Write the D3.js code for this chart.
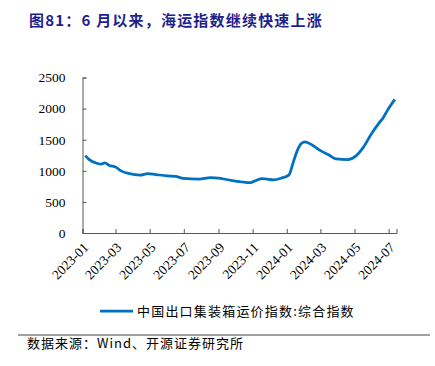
<!DOCTYPE html>
<html>
<head>
<meta charset="utf-8">
<script src="https://cdn.jsdelivr.net/npm/d3@7"></script>
<style>
  body { margin: 0; background: #fff; }
  svg { display: block; }
  .axis text { font-family: "Liberation Serif", "DejaVu Serif", serif; font-size: 13.5px; }
</style>
</head>
<body>
<div id="chart"></div>
<script>
// weekly CCFI composite readings (approx.)
const dates = [
  '2023-01-06', '2023-01-13', '2023-01-27', '2023-02-03', '2023-02-10', '2023-02-17',
  '2023-03-03', '2023-03-10', '2023-03-24', '2023-04-14', '2023-04-28', '2023-05-12',
  '2023-06-02', '2023-06-16', '2023-06-30', '2023-07-28', '2023-08-18', '2023-09-01',
  '2023-09-15', '2023-10-13', '2023-10-27', '2023-11-03', '2023-11-17', '2023-11-24',
  '2023-12-08', '2023-12-22', '2024-01-05', '2024-01-12', '2024-01-19', '2024-01-26',
  '2024-02-02', '2024-02-16', '2024-03-01', '2024-03-15', '2024-03-29', '2024-04-19',
  '2024-05-03', '2024-05-17', '2024-05-31', '2024-06-14', '2024-06-21', '2024-06-28',
  '2024-07-12'
];
const values = [
  1244, 1180, 1120, 1106, 1127, 1090,
  1052, 1002, 958, 930, 955, 940,
  918, 912, 878, 866, 891, 882,
  860, 820, 808, 830, 875, 870,
  855, 882, 935, 1122, 1308, 1430,
  1464, 1411, 1325, 1262, 1192, 1180,
  1236, 1380, 1590, 1770, 1850, 1960,
  2148
];
const yTicks = [0, 500, 1000, 1500, 2000, 2500];
const title = '图81：6 月以来，海运指数继续快速上涨';
const seriesName = '中国出口集装箱运价指数:综合指数';
const source = '数据来源：Wind、开源证券研究所';

const W = 435, H = 366;
const margin = { left: 82.5, right: 38.5, top: 77.5, bottom: 133 };
const parse = d3.timeParse('%Y-%m-%d');
const data = dates.map((d, i) => ({ date: parse(d), value: values[i] }));

const svg = d3.select('#chart').append('svg')
  .attr('width', W)
  .attr('height', H);

const x = d3.scaleTime()
  .domain([parse('2023-01-01'), parse('2024-07-15')])
  .range([margin.left, W - margin.right]);

const y = d3.scaleLinear()
  .domain([0, 2500])
  .range([H - margin.bottom, margin.top]);

// title
svg.append('text')
  .attr('x', 29)
  .attr('y', 26)
  .attr('fill', '#1f1f8c')
  .style('font-family', '"Noto Sans CJK SC", sans-serif')
  .style('font-weight', 'bold')
  .style('font-size', '15px')
  .style('letter-spacing', '1.2px')
  .text(title);

// y axis
const yAxis = svg.append('g')
  .attr('class', 'axis')
  .attr('transform', `translate(${margin.left},0)`)
  .call(d3.axisLeft(y).tickValues(yTicks).tickFormat(d3.format('d')).tickSize(-4).tickPadding(17));

// x axis
const xAxis = svg.append('g')
  .attr('class', 'axis')
  .attr('transform', `translate(0,${H - margin.bottom})`)
  .call(d3.axisBottom(x)
    .ticks(d3.timeMonth.every(2))
    .tickFormat(d3.timeFormat('%Y-%m'))
    .tickSize(-4));

[yAxis, xAxis].forEach(g => {
  g.attr('font-family', null).attr('font-size', null);
  g.select('.domain').attr('stroke', '#595959');
  g.selectAll('.tick line').attr('stroke', '#595959');
  g.selectAll('text').attr('fill', '#000');
});

xAxis.selectAll('.tick text')
  .attr('x', 0)
  .attr('y', 0)
  .attr('dy', '0.35em')
  .attr('text-anchor', 'end')
  .attr('transform', 'translate(3,12) rotate(-45)');

// line
const line = d3.line()
  .x(d => x(d.date))
  .y(d => y(d.value))
  .curve(d3.curveMonotoneX);

svg.append('path')
  .datum(data)
  .attr('fill', 'none')
  .attr('stroke', '#0070c0')
  .attr('stroke-width', 2.75)
  .attr('stroke-linejoin', 'round')
  .attr('d', line);

// legend
const legend = svg.append('g').attr('transform', 'translate(100,311)');
legend.append('line')
  .attr('x1', 0).attr('x2', 33)
  .attr('stroke', '#0070c0')
  .attr('stroke-width', 2.75);
legend.append('text')
  .attr('x', 37)
  .attr('dy', '0.35em')
  .attr('fill', '#000')
  .style('font-family', '"Noto Sans CJK SC", sans-serif')
  .style('font-size', '13px')
  .style('letter-spacing', '1.2px')
  .text(seriesName);

// separator + source
svg.append('line')
  .attr('x1', 18).attr('x2', 430)
  .attr('y1', 335).attr('y2', 335)
  .attr('stroke', '#808080')
  .attr('stroke-width', 1.5);

svg.append('text')
  .attr('x', 27)
  .attr('y', 348)
  .attr('fill', '#000')
  .style('font-family', '"Noto Sans CJK SC", sans-serif')
  .style('font-size', '13px')
  .style('letter-spacing', '1px')
  .text(source);
</script>
</body>
</html>
